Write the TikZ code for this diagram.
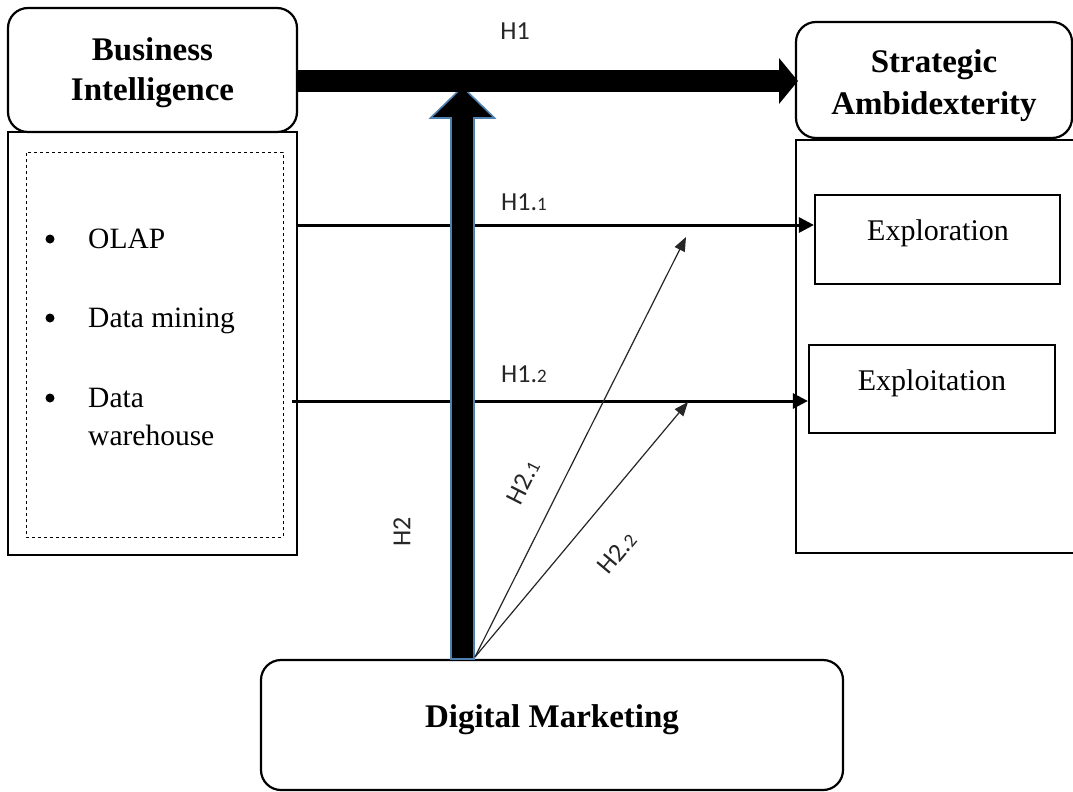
\documentclass[tikz,border=0pt]{standalone}
\usepackage{fontspec}
\setmainfont{Liberation Serif}
\newfontfamily\labfont{Carlito}
\usetikzlibrary{arrows.meta,calc}
\definecolor{outlineblue}{HTML}{4F81B0}
\tikzset{
  rbox/.style={draw=black, line width=2.2pt, rounded corners=20pt, fill=white, inner sep=0pt},
  headtext/.style={anchor=base, inner sep=0pt, font=\fontsize{33}{40}\selectfont\bfseries},
  sbox/.style={draw=black, line width=2.2pt, inner sep=0pt},
  itemtext/.style={anchor=base west, inner sep=0pt, font=\fontsize{29.5}{38}\selectfont},
  boxtext/.style={anchor=base, inner sep=0pt, font=\fontsize{30}{34}\selectfont},
  hlab/.style={inner sep=0pt, font=\labfont\fontsize{26}{28}\selectfont, text=black!85},
  hline/.style={draw=black, line width=3pt, -{Triangle[length=15pt,width=15pt]}},
  thinarrow/.style={draw=black!85, line width=1.2pt, -{Triangle[length=14pt,width=11pt]}},
  bullet/.style={circle, fill=black, inner sep=0pt, minimum size=9pt}
}
\newcommand{\subd}[1]{{\fontsize{19}{20}\selectfont #1}}
\begin{document}
\begin{tikzpicture}[x=1pt,y=-1pt]
\clip (0,0) rectangle (1073,792);
\fill[white] (0,0) rectangle (1073,792);

% lower boxes
\node[sbox, minimum width=289pt, minimum height=423pt] (bilist) at (152.5,343.5) {};
\node[draw=black, dashed, line width=0.8pt, inner sep=0pt, minimum width=257pt, minimum height=385pt] (dash) at (154.5,344.5) {};
\node[sbox, minimum width=290pt, minimum height=413pt] (salist) at (941,346.5) {};

% top rounded boxes
\node[rbox, minimum width=289pt, minimum height=124pt] (bi) at (152.5,70) {};
\node[headtext] (bi1) at (152.5,61) {Business};
\node[headtext] (bi2) at (152.5,100) {Intelligence};
\node[rbox, minimum width=276pt, minimum height=116pt] (sa) at (934,80) {};
\node[headtext] (sa1) at (934,72) {Strategic};
\node[headtext] (sa2) at (934,114) {Ambidexterity};

% list items
\node[bullet] (b1) at (50,239) {};
\node[bullet] (b2) at (50,318) {};
\node[bullet] (b3) at (50,398) {};
\node[itemtext] (t1) at (88,248) {OLAP};
\node[itemtext] (t2) at (88,327) {Data mining};
\node[itemtext] (t3) at (88,407) {Data};
\node[itemtext] (t4) at (88,445) {warehouse};

% right inner boxes
\node[sbox, minimum width=245pt, minimum height=89pt] (explor) at (937.5,239.5) {};
\node[boxtext] (explortext) at (938,240) {Exploration};
\node[sbox, minimum width=246pt, minimum height=88pt] (exploit) at (932,389) {};
\node[boxtext] (exploittext) at (932,390) {Exploitation};

% digital marketing
\node[rbox, minimum width=582pt, minimum height=130pt] (dm) at (552,725) {};
\node[headtext] (dmtext) at (552,727) {Digital Marketing};

% H1.1 and H1.2
\coordinate (l1) at (297,225);
\coordinate (l2) at (292,401);
\draw[hline] (l1) -- (l1 -| explor.west);
\draw[hline] (l2) -- (l2 -| exploit.west);

% H2 big vertical arrow
\coordinate (h2s) at (462.5,659);
\coordinate (h2t) at (462.5,87);
\filldraw[fill=black, draw=outlineblue, line width=1.6pt, line join=miter]
  ($(h2s)+(-11.5,0)$) -- ($(h2t)+(-11.5,31)$) -- ($(h2t)+(-32,31)$) -- (h2t)
  -- ($(h2t)+(32,31)$) -- ($(h2t)+(11.5,31)$) -- ($(h2s)+(11.5,0)$) -- cycle;

% H1 heavy arrow
\coordinate (h1s) at (bi.east |- 0,81);
\coordinate (h1h) at (779,81);
\fill[black] (h1s) ++(0,-11) rectangle ($(h1h)+(1,11)$);
\fill[black] ($(h1h)+(0,-23)$) -- ($(sa.west |- h1h)+(3,0)$) -- ($(h1h)+(0,23)$) -- cycle;

% H2.1 and H2.2 thin arrows
\coordinate (fan) at (475,657);
\coordinate (e1) at (686,237);
\coordinate (e2) at (688,402);
\draw[thinarrow] (fan) -- (e1);
\draw[thinarrow] (fan) -- (e2);

% labels
\node[hlab] (lh1) at (515,31) {H1};
\node[hlab, anchor=base west] (lh11) at (501,210) {H1.\subd{1}};
\node[hlab, anchor=base west] (lh12) at (501,382) {H1.\subd{2}};
\node[hlab, rotate=90] (lh2) at (402,532) {H2};
\node[hlab, rotate=63] (lh21) at (523,482) {H2.\subd{1}};
\node[hlab, rotate=50] (lh22) at (617,553) {H2.\subd{2}};
\end{tikzpicture}
\end{document}
